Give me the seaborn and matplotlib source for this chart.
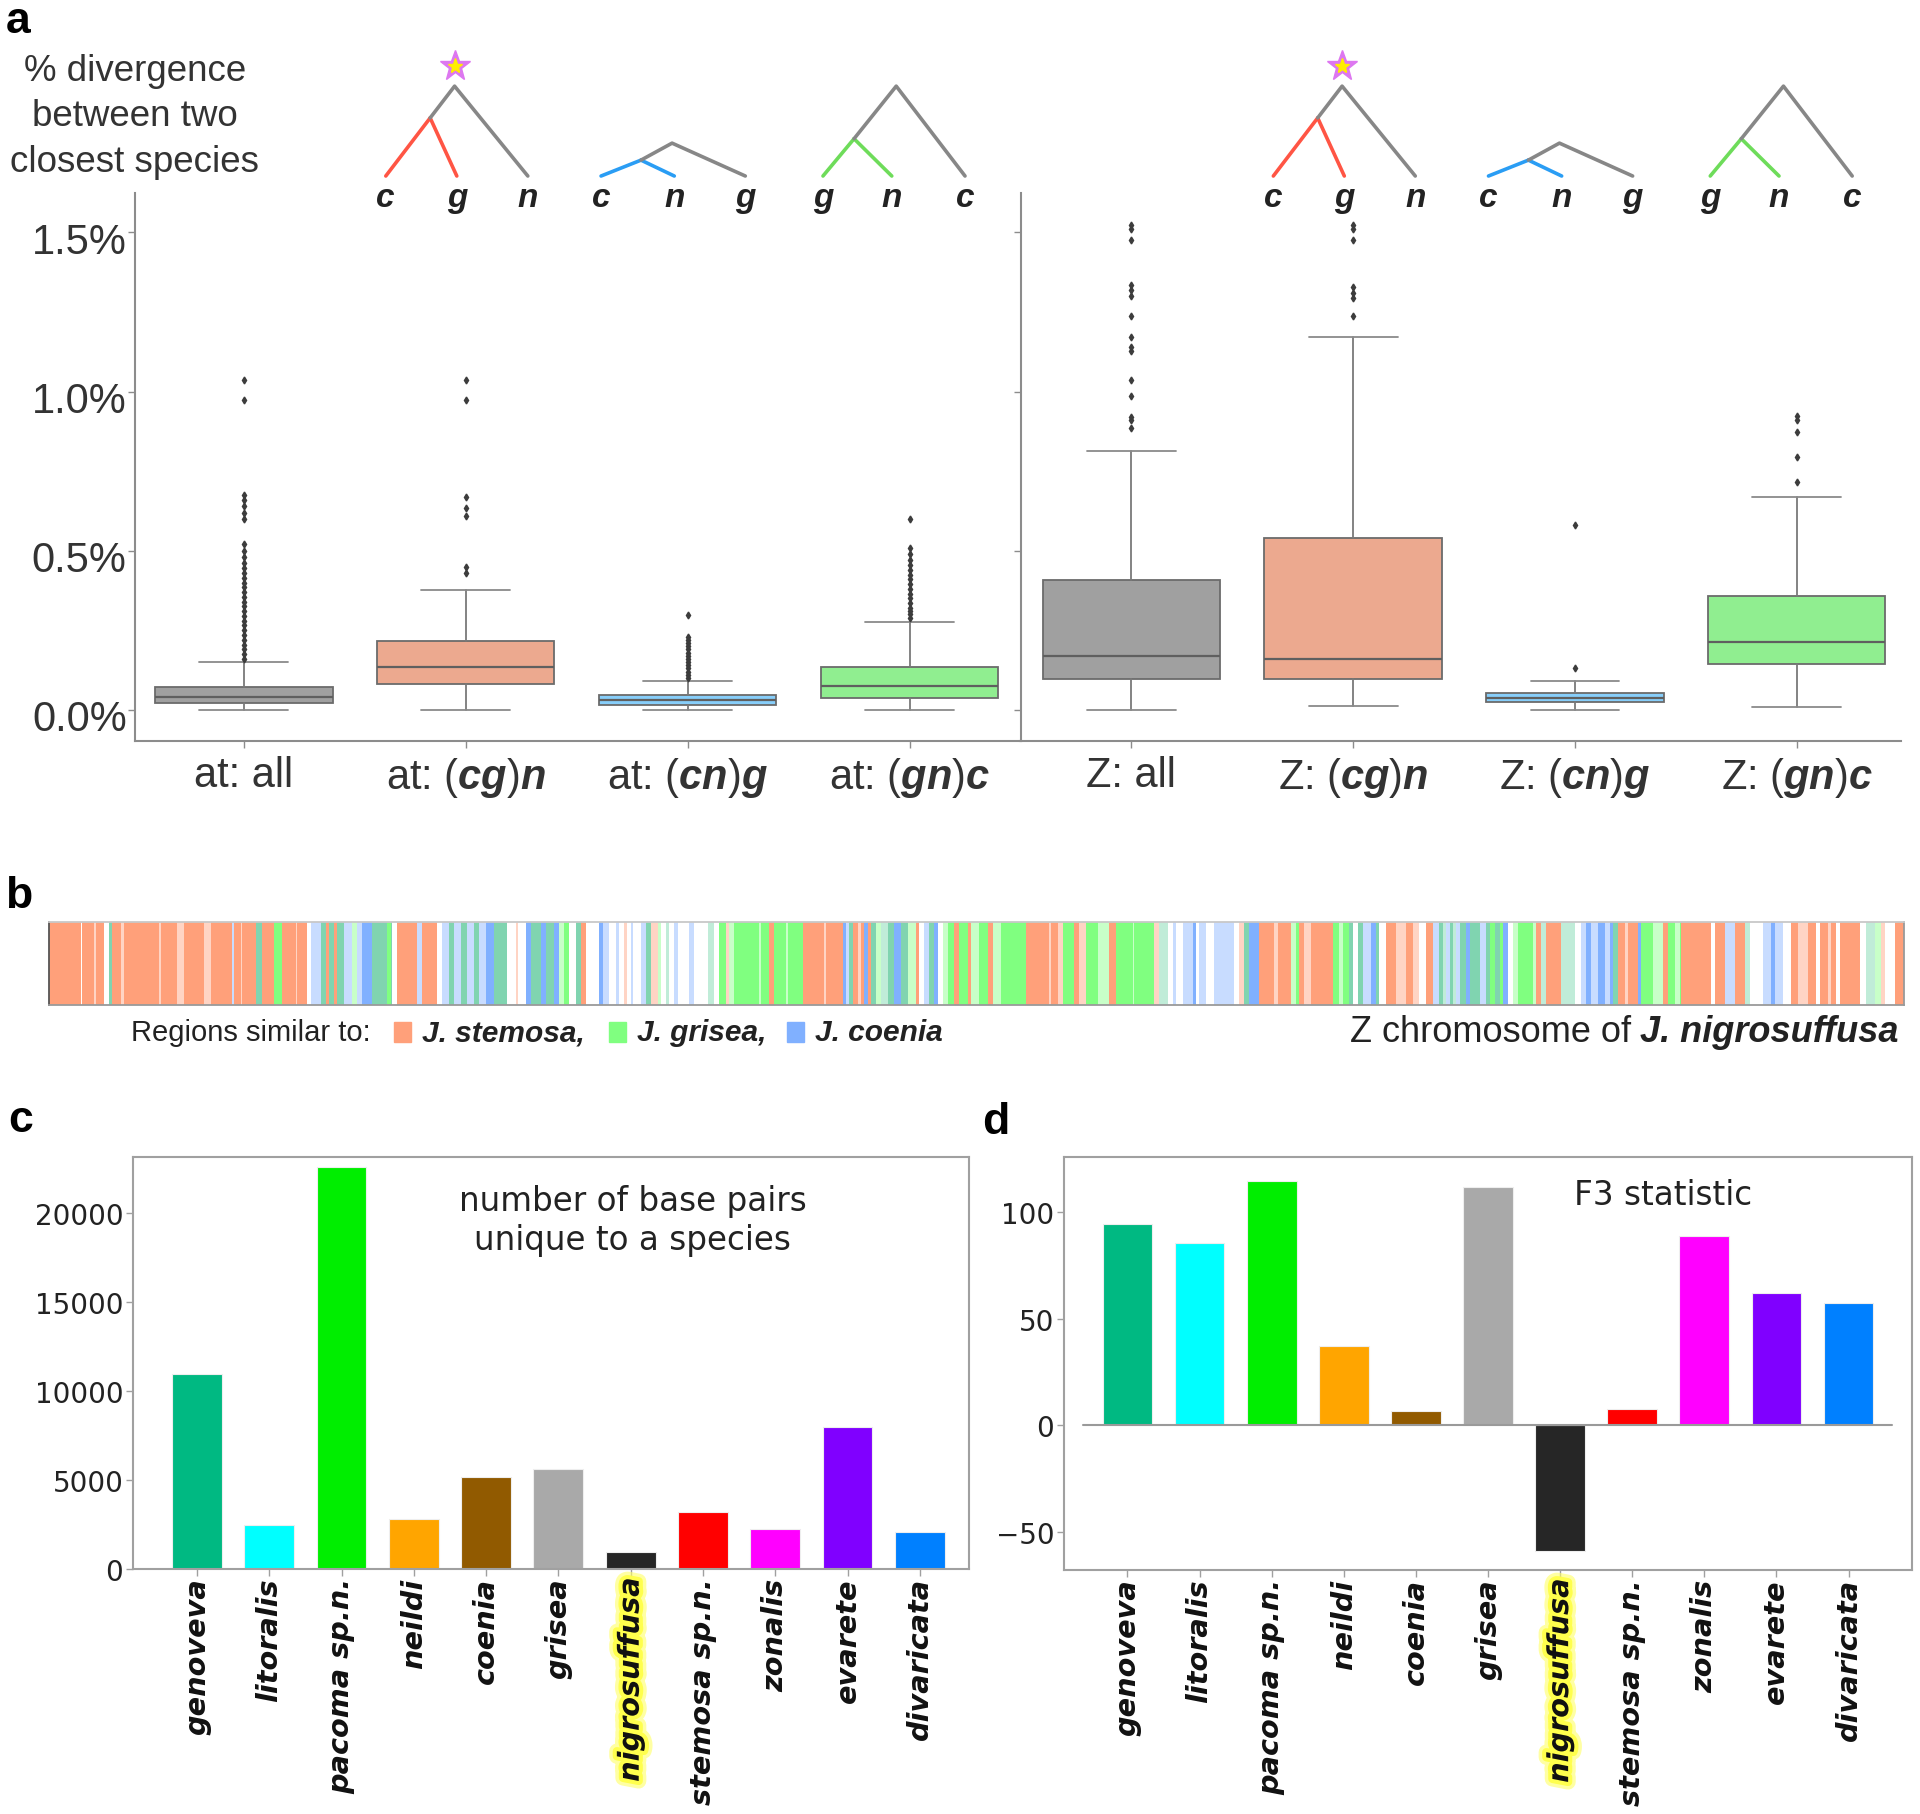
import numpy as np
import pandas as pd
import matplotlib
matplotlib.use("Agg")
import matplotlib.pyplot as plt
import matplotlib.patheffects as pe
import matplotlib.transforms as mtransforms
from matplotlib.patches import Rectangle
import seaborn as sns

# ---------------- data ----------------
# panel a: % divergence between the two closest species (box summaries, in %)
box_colors = ['#a0a0a0', '#eca98f', '#87cefa', '#90ee90']
at_labels = ['at: all', r'at: ($\mathbfit{cg}$)$\mathbfit{n}$',
             r'at: ($\mathbfit{cn}$)$\mathbfit{g}$', r'at: ($\mathbfit{gn}$)$\mathbfit{c}$']
z_labels = ['Z: all', r'Z: ($\mathbfit{cg}$)$\mathbfit{n}$',
            r'Z: ($\mathbfit{cn}$)$\mathbfit{g}$', r'Z: ($\mathbfit{gn}$)$\mathbfit{c}$']

at_whislo = [0.0, 0.0, 0.0, 0.0]
at_q1 = [0.021, 0.081, 0.014, 0.0385]
at_med = [0.040, 0.135, 0.030, 0.076]
at_q3 = [0.073, 0.216, 0.047, 0.134]
at_whishi = [0.150, 0.378, 0.092, 0.276]
at_fliers = [
    [0.16, 0.175, 0.19, 0.205, 0.22, 0.235, 0.25, 0.265, 0.28, 0.295, 0.31, 0.325,
     0.34, 0.355, 0.37, 0.385, 0.40, 0.415, 0.43, 0.445, 0.46, 0.48, 0.50, 0.52,
     0.60, 0.62, 0.64, 0.66, 0.675, 0.975, 1.036],
    [0.43, 0.45, 0.61, 0.635, 0.67, 0.975, 1.036],
    [0.10, 0.11, 0.12, 0.13, 0.14, 0.15, 0.16, 0.17, 0.18, 0.19, 0.20, 0.21, 0.22,
     0.23, 0.297],
    [0.29, 0.30, 0.31, 0.32, 0.335, 0.35, 0.365, 0.38, 0.395, 0.41, 0.425, 0.44,
     0.455, 0.47, 0.49, 0.51, 0.60],
]

z_whislo = [0.0, 0.012, 0.0, 0.009]
z_q1 = [0.096, 0.096, 0.024, 0.145]
z_med = [0.170, 0.160, 0.037, 0.214]
z_q3 = [0.409, 0.539, 0.052, 0.357]
z_whishi = [0.813, 1.171, 0.092, 0.670]
z_fliers = [
    [0.885, 0.91, 0.92, 0.987, 1.036, 1.127, 1.14, 1.17, 1.239, 1.30, 1.32, 1.335,
     1.475, 1.51, 1.525],
    [1.239, 1.295, 1.31, 1.33, 1.475, 1.51, 1.525],
    [0.13, 0.58],
    [0.717, 0.794, 0.872, 0.91, 0.922],
]
pct_ticks = [0.0, 0.5, 1.0, 1.5]

# little trees above the boxes (x in box-axis units, y in axes fraction)
tree_leaves = [[0.64, 0.96, 1.28], [1.61, 1.94, 2.26], [2.61, 2.92, 3.25]]
tree_letters = [['c', 'g', 'n'], ['c', 'n', 'g'], ['g', 'n', 'c']]
tree_inner = [(0.84, 1.137), (1.79, 1.060), (2.75, 1.099)]
tree_apex = [(0.95, 1.195), (1.93, 1.091), (2.94, 1.195)]
tree_colors = ['#ff5544', '#2a9df4', '#6edc5a']

# panel b: regions of the Z chromosome (code + region length)
region_calls = (
    "S95 w5 S35 s5 S25 w15 T10 S25 s10 S105 s5 S50 s20 S60 s20 S65 c5 S20 s5 S40 T20 "
    "S35 G25 S40 s5 S30 w10 c30 T15 S10 T15 S10 T20 c25 g15 c15 C30 T45 G10 T5 w15 S60 "
    "c15 S45 w15 c20 T15 c20 T20 c20 T15 c20 C25 T40 w25 s5 w25 "
    "C15 T30 C15 T25 C15 g15 G15 w20 T15 S15 w40 C10 c20 w20 c10 w15 s8 w12 c5 w25 c15 "
    "T15 s20 g10 w15 t10 w15 c10 w35 c15 w40 t20 w15 G20 s10 g15 G75 g5 G25 S15 G35 g5 "
    "G45 S65 s5 S50 C10 c10 T10 S15 s10 S10 C10 S10 T15 g15 t20 T20 C20 T20 g25 S10 w15 "
    "c15 T15 C10 w15 g15 G20 S15 G25 S10 g25 G25 S15 g25 "
    "G75 S70 s5 S20 s15 G35 S15 s20 G35 g35 S20 G50 g5 G60 s15 t25 w15 c10 w20 c30 C10 "
    "w10 c20 w25 c25 c35 w15 s15 T15 C30 S45 s10 S40 g15 G10 S15 s20 S65 G20 g10 G20 T10 "
    "w15 T15 c25 C15 T10 w20 S30 s30 S20 s20 w20 S20 c20 T10 t10 c10 T10 t10 c10 T20 C10 T20 "
    "T10 c20 T10 G15 T15 G10 C15 w15 g15 G45 g10 S15 t15 S45 t40 w20 c15 C15 c20 C20 c15 "
    "C10 T15 S20 s10 S30 C10 G35 g30 S15 G20 g15 G5 S90 w10 S30 c30 S30 t15 w40 c25 C10 "
    "c25 w25 S20 s30 S25 w10 S25 s10 S15 w10 S60 w20 t25 g20 s10 w30 S28"
)
region_codes = [tok[0] for tok in region_calls.split()]
region_lengths = [int(tok[1:]) for tok in region_calls.split()]
code_colors = {'S': '#ffa07a', 's': '#ffd4c4', 'G': '#80ff80', 'g': '#c8ffc8',
               'C': '#80b0ff', 'c': '#c8dcff', 'T': '#80d4b0', 't': '#c0ecd8',
               'w': '#ffffff'}

# panels c, d
species = ['genoveva', 'litoralis', 'pacoma sp.n.', 'neildi', 'coenia', 'grisea',
           'nigrosuffusa', 'stemosa sp.n.', 'zonalis', 'evarete', 'divaricata']
species_colors = ['#00b982', '#00ffff', '#00ee00', '#ffa500', '#915a00', '#a9a9a9',
                  '#262626', '#ff0000', '#ff00ff', '#8000ff', '#0080ff']
unique_bp = [10950, 2450, 22600, 2800, 5180, 5640, 980, 3180, 2260, 8000, 2100]
f3_stat = [94.5, 85.5, 114.5, 37, 6.5, 112, -59, 7.5, 89, 62, 57.5]
c_ticks = [0, 5000, 10000, 15000, 20000]
d_ticks = [-50, 0, 50, 100]

# ---------------- style ----------------
sns.set_theme(style='white')
plt.rcParams['font.family'] = ['Liberation Sans', 'DejaVu Sans']
plt.rcParams['mathtext.fontset'] = 'custom'
plt.rcParams['mathtext.rm'] = 'Liberation Sans'
plt.rcParams['mathtext.bfit'] = 'Liberation Sans:italic:bold'
SPINE = '#8c8c8c'

W, H = 1920, 1815
fig = plt.figure(figsize=(19.2, 18.15), dpi=100)


def fig_box(left, top, right, bottom):
    return [left / W, 1 - bottom / H, (right - left) / W, (bottom - top) / H]


def fx(x):
    return x / W


def fy(y):
    return 1 - y / H


def draw_boxes(ax, lo, q1, med, q3, hi, fliers):
    stats = [dict(whislo=a, q1=b, med=c, q3=d, whishi=e, fliers=f)
             for a, b, c, d, e, f in zip(lo, q1, med, q3, hi, fliers)]
    parts = ax.bxp(stats, positions=range(len(stats)), widths=0.8, patch_artist=True,
                   boxprops=dict(edgecolor='#6b6b6b', linewidth=1.3),
                   medianprops=dict(color='#5f5f5f', linewidth=1.6),
                   whiskerprops=dict(color='#7a7a7a', linewidth=1.3),
                   capprops=dict(color='#8a8a8a', linewidth=1.3),
                   flierprops=dict(marker='d', markersize=3.5, markerfacecolor='#3c3c3c',
                                   markeredgecolor='#3c3c3c'))
    for patch, col in zip(parts['boxes'], box_colors):
        patch.set_facecolor(col)


def draw_trees(ax):
    tr = ax.get_xaxis_transform()
    leaf_y, letter_y = 1.031, 0.977
    for leaves, letters, inner, apex, col in zip(tree_leaves, tree_letters,
                                                tree_inner, tree_apex, tree_colors):
        for lx in leaves[:2]:
            ax.plot([inner[0], lx], [inner[1], leaf_y], color=col, lw=2.6,
                    transform=tr, clip_on=False)
        ax.plot([inner[0], apex[0], leaves[2]], [inner[1], apex[1], leaf_y],
                color='#878787', lw=2.6, transform=tr, clip_on=False)
        for lx, letter in zip(leaves, letters):
            ax.text(lx, letter_y, letter, transform=tr, ha='center', va='baseline',
                    fontsize=24, fontweight='bold', fontstyle='italic', color='#222222')
    sx = tree_apex[0][0]
    ax.plot(sx, 1.232, marker='*', markersize=23, color='#dd77f0', transform=tr, clip_on=False)
    ax.plot(sx, 1.232, marker='*', markersize=11, color='#ffee00', transform=tr, clip_on=False)


# ---------------- panel a ----------------
ax_at = fig.add_axes(fig_box(135, 194, 1020.5, 742))
ax_z = fig.add_axes(fig_box(1020.5, 194, 1901, 742))
draw_boxes(ax_at, at_whislo, at_q1, at_med, at_q3, at_whishi, at_fliers)
draw_boxes(ax_z, z_whislo, z_q1, z_med, z_q3, z_whishi, z_fliers)

label_shift = mtransforms.ScaledTranslation(0, -5 / 100, fig.dpi_scale_trans)
for ax, labels, xlim in [(ax_at, at_labels, (-0.49, 3.5)), (ax_z, z_labels, (-0.5, 3.47))]:
    ax.set_xlim(*xlim)
    ax.set_ylim(-0.098, 1.624)
    ax.set_xticks(range(4))
    ax.set_xticklabels(labels, fontsize=30, color='#333333')
    ax.set_yticks(pct_ticks)
    ax.set_yticklabels([f'{v:.1f}%' for v in pct_ticks], fontsize=30, color='#333333')
    for side in ['top', 'right']:
        ax.spines[side].set_visible(False)
    for side in ['left', 'bottom']:
        ax.spines[side].set_color(SPINE)
        ax.spines[side].set_linewidth(1.5)
    ax.tick_params(axis='both', direction='out', length=5, width=1, color=SPINE,
                   left=True, bottom=True)
    ax.tick_params(axis='x', pad=5)
    ax.tick_params(axis='y', pad=1)
    for lbl in ax.get_yticklabels():
        lbl.set_transform(lbl.get_transform() + label_shift)
    ax.set_facecolor('none')
    draw_trees(ax)
ax_z.tick_params(labelleft=False)

fig.text(fx(135), fy(117), '% divergence\nbetween two\nclosest species', ha='center',
         va='center', fontsize=26.5, linespacing=1.38, color='#333333')

# ---------------- panel b ----------------
ax_b = fig.add_axes(fig_box(49, 923, 1904, 1006))
starts = np.concatenate([[0], np.cumsum(region_lengths)[:-1]])
ax_b.barh(0, region_lengths, left=starts, height=1,
          color=[code_colors[c] for c in region_codes], linewidth=0)
ax_b.set_xlim(0, sum(region_lengths))
ax_b.set_ylim(-0.5, 0.5)
ax_b.set_xticks([])
ax_b.set_yticks([])
for side in ax_b.spines:
    ax_b.spines[side].set_color('#9a9a9a')
    ax_b.spines[side].set_linewidth(1.3)
ax_b.spines['left'].set_color('#555555')
ax_b.spines['top'].set_color('#c8c8c8')

fig.text(fx(131), fy(1033), 'Regions similar to:', fontsize=21, va='center', color='#222222')
legend_items = [('J. stemosa,', '#ffa07a', 394), ('J. grisea,', '#80ff80', 609),
                ('J. coenia', '#80b0ff', 787)]
for name, col, x0 in legend_items:
    fig.add_artist(Rectangle((fx(x0), fy(1043)), 17 / W, 20 / H, color=col,
                             transform=fig.transFigure))
    fig.text(fx(x0 + 28), fy(1033), name, fontsize=21.5, fontweight='bold',
             fontstyle='italic', va='center', color='#222222')

renderer = fig.canvas.get_renderer()
species_txt = fig.text(fx(1898), fy(1033), 'J. nigrosuffusa', fontsize=26, fontweight='bold',
                       fontstyle='italic', ha='right', va='center', color='#222222')
bb = species_txt.get_window_extent(renderer)
fig.text(bb.x0 / W - 8 / W, fy(1033), 'Z chromosome of', fontsize=26, ha='right',
         va='center', color='#222222')


# ---------------- panels c, d ----------------
def bar_panel(ax, values, ticks, xlim, ylim):
    df = pd.DataFrame({'species': species, 'value': values})
    sns.barplot(data=df, x='species', y='value', hue='species',
                palette=dict(zip(species, species_colors)), legend=False,
                width=0.69, saturation=1, ax=ax, edgecolor='#eeeeee', linewidth=0.8)
    ax.set_xlabel('')
    ax.set_ylabel('')
    ax.set_xlim(*xlim)
    ax.set_ylim(*ylim)
    ax.set_yticks(ticks)
    ax.set_yticklabels([str(v).replace('-', '\u2212') for v in ticks],
                       fontfamily='DejaVu Sans', fontsize=20, color='#222222')
    ax.set_xticks(range(len(species)))
    ax.set_xticklabels(species, rotation=90, va='top', ha='center',
                       fontfamily='DejaVu Sans', fontweight='bold', fontstyle='oblique',
                       fontsize=20.7, color='#111111')
    ax.get_xticklabels()[6].set_path_effects(
        [pe.Stroke(linewidth=11, foreground='#ffff66', alpha=0.6),
         pe.Stroke(linewidth=6, foreground='#ffff44', alpha=0.9), pe.Normal()])
    for side in ax.spines:
        ax.spines[side].set_color('#a0a0a0')
        ax.spines[side].set_linewidth(1.5)
    ax.tick_params(axis='both', direction='out', length=5, width=1, color='#a0a0a0',
                   left=True, bottom=True)
    ax.tick_params(axis='x', pad=1)
    ax.tick_params(axis='y', pad=2)


ax_c = fig.add_axes(fig_box(133, 1158, 969, 1570))
bar_panel(ax_c, unique_bp, c_ticks, (-0.885, 10.68), (0, 23140))
ax_c.text(0.5975, 0.847, 'number of base pairs\nunique to a species', transform=ax_c.transAxes,
          ha='center', va='center', fontfamily='DejaVu Sans', fontsize=23.5, color='#222222')

ax_d = fig.add_axes(fig_box(1064, 1158, 1912, 1571))
bar_panel(ax_d, f3_stat, d_ticks, (-0.88, 10.88), (-68, 125.9))
ax_d.axhline(0, xmin=0.022, xmax=0.976, color='#9a9a9a', lw=1.5)
ax_d.text(0.707, 0.908, 'F3 statistic', transform=ax_d.transAxes, ha='center', va='center',
          fontfamily='DejaVu Sans', fontsize=23.5, color='#222222')

# ---------------- panel letters ----------------
for letter, x, y in [('a', 6, 33), ('b', 5, 908), ('c', 8, 1132), ('d', 982, 1134)]:
    fig.text(fx(x), fy(y), letter, fontsize=32, fontweight='bold', va='baseline', color='black')

fig.savefig('out.png', dpi=100)
